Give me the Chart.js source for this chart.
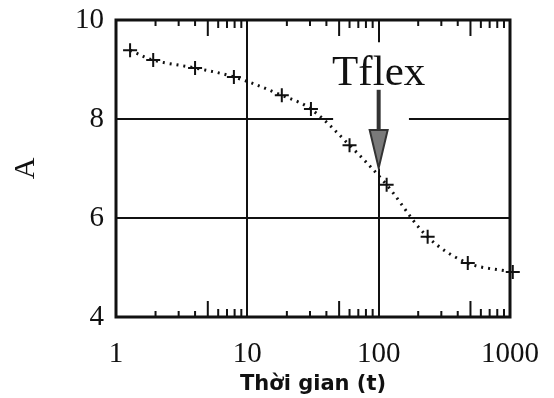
<!DOCTYPE html>
<html>
<head>
<meta charset="utf-8">
<script src="https://cdn.jsdelivr.net/npm/chart.js@4"></script>
<style>
  body { margin: 0; background: #fff; }
  #wrap { width: 554px; height: 398px; }
</style>
</head>
<body>
<div id="wrap"><canvas id="chart"></canvas></div>
<script>
// valeurs
const timeValues = [1.28, 1.92, 4.0, 7.9, 18.3, 30.5, 60, 115, 236, 477, 1050]
const aValues = [9.39, 9.19, 9.03, 8.85, 8.48, 8.20, 7.47, 6.67, 5.62, 5.09, 4.91]
const xTickLabels = [1, 10, 100, 1000]
const yTickLabels = [4, 6, 8, 10]
const annotationText = 'Tflex'
const ink = '#111'

const points = timeValues.map((t, i) => ({ x: t, y: aValues[i] }))

// cadre, petites graduations log, trous dans la grille, fleche Tflex
const extras = {
  id: 'extras',
  beforeDatasetsDraw(chart) {
    const { ctx, scales: { x, y } } = chart
    ctx.save()
    ctx.fillStyle = '#fff'
    // trou dans la ligne y=8 autour de l'annotation
    const x1 = x.getPixelForValue(45), x2 = x.getPixelForValue(170)
    ctx.fillRect(x1, y.getPixelForValue(8) - 3, x2 - x1, 6)
    // trou dans la ligne x=100 derriere le texte et la fleche
    const yTop = y.getPixelForValue(9.55), yBot = y.getPixelForValue(7.0)
    ctx.fillRect(x.getPixelForValue(100) - 3, yTop, 6, yBot - yTop)
    ctx.restore()
  },
  afterDatasetsDraw(chart) {
    const { ctx, chartArea: a, scales: { x, y } } = chart
    ctx.save()
    ctx.strokeStyle = ink
    ctx.lineWidth = 3
    ctx.strokeRect(a.left, a.top, a.right - a.left, a.bottom - a.top)
    ctx.lineWidth = 2
    for (let d = 1; d < 1000; d *= 10) {
      for (let k = 2; k <= 9; k++) {
        const px = x.getPixelForValue(k * d)
        const len = k === 5 ? 16 : (k < 5 ? 6 : 8)
        ctx.beginPath()
        ctx.moveTo(px, a.top); ctx.lineTo(px, a.top + len)
        ctx.moveTo(px, a.bottom); ctx.lineTo(px, a.bottom - len)
        ctx.stroke()
      }
    }
    // fleche
    const ax = x.getPixelForValue(100)
    const sTop = y.getPixelForValue(8.59), hTop = y.getPixelForValue(7.78), tip = y.getPixelForValue(7.01)
    ctx.strokeStyle = '#333'
    ctx.lineWidth = 4
    ctx.beginPath(); ctx.moveTo(ax, sTop); ctx.lineTo(ax, hTop); ctx.stroke()
    ctx.beginPath()
    ctx.moveTo(ax - 9, hTop); ctx.lineTo(ax + 9, hTop); ctx.lineTo(ax, tip); ctx.closePath()
    ctx.fillStyle = '#7a7a7a'
    ctx.fill()
    ctx.lineWidth = 2
    ctx.stroke()
    // texte
    ctx.fillStyle = ink
    ctx.font = '43px "Liberation Serif"'
    ctx.textAlign = 'center'
    ctx.textBaseline = 'alphabetic'
    ctx.fillText(annotationText, ax, y.getPixelForValue(8.69))
    ctx.restore()
  }
}

new Chart(document.getElementById('chart'), {
  type: 'line',
  data: {
    datasets: [{
      data: points,
      borderColor: ink,
      borderWidth: 3,
      borderDash: [2, 5],
      tension: 0.35,
      pointStyle: 'cross',
      pointRadius: 7,
      pointBorderWidth: 2,
      pointBorderColor: ink,
      pointBackgroundColor: ink,
      clip: false
    }]
  },
  options: {
    responsive: true,
    maintainAspectRatio: false,
    animation: false,
    events: [],
    layout: { padding: { top: 20, right: 44, left: 0, bottom: 0 } },
    plugins: { legend: { display: false }, tooltip: { enabled: false } },
    scales: {
      x: {
        type: 'logarithmic',
        min: 1,
        max: 1000,
        afterFit: s => { s.height = 81; s.paddingLeft = 0; s.paddingRight = 0 },
        border: { display: false },
        grid: {
          drawTicks: false,
          lineWidth: 2,
          color: c => (c.tick && (c.tick.value === 10 || c.tick.value === 100)) ? ink : 'rgba(0,0,0,0)'
        },
        ticks: {
          autoSkip: false,
          maxRotation: 0,
          padding: 20,
          color: ink,
          font: { family: 'Liberation Serif', size: 29 },
          callback: v => xTickLabels.includes(v) ? String(v) : ''
        },
        title: {
          display: true,
          text: 'Thời gian (t)',
          color: ink,
          font: { family: 'DejaVu Sans', size: 21, weight: 'bold' },
          padding: { top: 0, bottom: 1 }
        }
      },
      y: {
        min: 4,
        max: 10,
        afterFit: s => { s.width = 116; s.paddingTop = 0; s.paddingBottom = 0 },
        afterBuildTicks: s => { s.ticks = yTickLabels.map(v => ({ value: v })) },
        border: { display: false },
        grid: {
          drawTicks: false,
          lineWidth: 2,
          color: c => (c.tick && (c.tick.value === 6 || c.tick.value === 8)) ? ink : 'rgba(0,0,0,0)'
        },
        ticks: {
          padding: 12,
          color: ink,
          font: { family: 'Liberation Serif', size: 29 }
        },
        title: {
          display: true,
          text: 'A',
          color: ink,
          font: { family: 'Liberation Serif', size: 30 },
          padding: { top: 8, bottom: 0 }
        }
      }
    }
  },
  plugins: [extras]
})
</script>
</body>
</html>
